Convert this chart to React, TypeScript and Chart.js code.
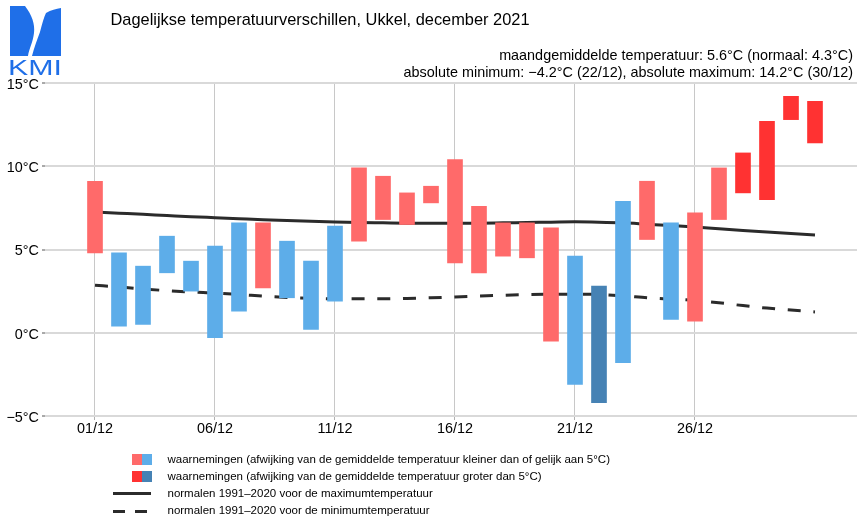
import React, { useEffect, useRef } from 'react';
import { Chart, registerables } from 'chart.js';

Chart.register(...registerables);

// ---------- data ----------
const days = [1, 2, 3, 4, 5, 6, 7, 8, 9, 10, 11, 12, 13, 14, 15, 16, 17, 18, 19, 20, 21, 22, 23, 24, 25, 26, 27, 28, 29, 30, 31];
const dailyMin = [4.8, 0.4, 0.5, 3.6, 2.5, -0.3, 1.3, 2.7, 2.1, 0.2, 1.9, 5.5, 6.8, 6.5, 7.8, 4.2, 3.6, 4.6, 4.5, -0.5, -3.1, -4.2, -1.8, 5.6, 0.8, 0.7, 6.8, 8.4, 8.0, 12.8, 11.4];
const dailyMax = [9.1, 4.8, 4.0, 5.8, 4.3, 5.2, 6.6, 6.6, 5.5, 4.3, 6.4, 9.9, 9.4, 8.4, 8.8, 10.4, 7.6, 6.6, 6.6, 6.3, 4.6, 2.8, 7.9, 9.1, 6.6, 7.2, 9.9, 10.8, 12.7, 14.2, 13.9];
// deviation of the daily mean from normal: warm / cold, "5" = more than 5°C
const deviationClass = ['warm', 'cold', 'cold', 'cold', 'cold', 'cold', 'cold', 'warm', 'cold', 'cold', 'cold', 'warm', 'warm', 'warm', 'warm', 'warm', 'warm', 'warm', 'warm', 'warm', 'cold', 'cold5', 'cold', 'warm', 'cold', 'warm', 'warm', 'warm5', 'warm5', 'warm5', 'warm5'];
const normalMax = [7.25, 7.18, 7.11, 7.04, 6.97, 6.91, 6.85, 6.79, 6.74, 6.69, 6.65, 6.62, 6.6, 6.58, 6.57, 6.57, 6.58, 6.6, 6.62, 6.64, 6.66, 6.64, 6.6, 6.52, 6.44, 6.35, 6.24, 6.14, 6.05, 5.96, 5.87];
const normalMin = [2.85, 2.75, 2.63, 2.53, 2.45, 2.38, 2.3, 2.2, 2.12, 2.07, 2.04, 2.04, 2.04, 2.06, 2.1, 2.15, 2.2, 2.25, 2.29, 2.31, 2.32, 2.3, 2.22, 2.1, 2.02, 1.94, 1.8, 1.63, 1.48, 1.36, 1.25];
const tickDays = [1, 6, 11, 16, 21, 26];
const tickLabels = ['01/12', '06/12', '11/12', '16/12', '21/12', '26/12'];
const yTickValues = [-5, 0, 5, 10, 15];

const titleText = 'Dagelijkse temperatuurverschillen, Ukkel, december 2021';
const infoLine1 = 'maandgemiddelde temperatuur: 5.6°C (normaal: 4.3°C)';
const infoLine2 = 'absolute minimum: \u22124.2°C (22/12), absolute maximum: 14.2°C (30/12)';
const legendLabels = [
  'waarnemingen (afwijking van de gemiddelde temperatuur kleiner dan of gelijk aan 5°C)',
  'waarnemingen (afwijking van de gemiddelde temperatuur groter dan 5°C)',
  'normalen 1991\u20132020 voor de maximumtemperatuur',
  'normalen 1991\u20132020 voor de minimumtemperatuur',
];

// ---------- styles ----------
const FONT = '"Liberation Sans", Arial, Helvetica, sans-serif';
const COLORS: Record<string, string> = {
  warm: '#ff6a6a',
  cold: '#5dade9',
  warm5: '#ff3232',
  cold5: '#4682b4',
};
const LINE_COLOR = '#2b2b2b';

function fmtY(v: number) {
  return (v < 0 ? '\u2212' + Math.abs(v) : String(v)) + '°C';
}

function ChartCanvas() {
  const ref = useRef<HTMLCanvasElement | null>(null);
  useEffect(() => {
    if (!ref.current) return;
    const chart = new Chart(ref.current, {
      type: 'bar',
      data: {
        datasets: [
          {
            type: 'bar',
            data: days.map((d, i) => ({ x: d, y: [dailyMin[i], dailyMax[i]] })) as any,
            backgroundColor: deviationClass.map((c) => COLORS[c]),
            borderWidth: 0,
            barThickness: 15,
            grouped: false,
            order: 0,
          } as any,
          {
            type: 'line',
            data: days.map((d, i) => ({ x: d, y: normalMax[i] })),
            borderColor: LINE_COLOR,
            borderWidth: 3,
            pointRadius: 0,
            cubicInterpolationMode: 'monotone',
            order: 1,
          } as any,
          {
            type: 'line',
            data: days.map((d, i) => ({ x: d, y: normalMin[i] })),
            borderColor: LINE_COLOR,
            borderWidth: 3,
            borderDash: [13, 12.7],
            pointRadius: 0,
            cubicInterpolationMode: 'monotone',
            order: 1,
          } as any,
        ],
      },
      options: {
        animation: false,
        responsive: false,
        maintainAspectRatio: false,
        devicePixelRatio: 1,
        layout: { padding: { top: 83, left: 0, right: 0, bottom: 0 } },
        plugins: { legend: { display: false }, tooltip: { enabled: false }, title: { display: false } },
        scales: {
          x: {
            type: 'linear',
            min: -1.0833,
            max: 32.75,
            offset: false,
            afterBuildTicks: (s: any) => {
              s.ticks = tickDays.map((v) => ({ value: v }));
            },
            afterFit: (s: any) => {
              s.height = 103;
            },
            ticks: {
              autoSkip: false,
              maxRotation: 0,
              padding: 0,
              color: '#000',
              font: { family: FONT, size: 14.4 },
              callback: (v: any) => {
                const i = tickDays.indexOf(Number(v));
                return i >= 0 ? tickLabels[i] : '';
              },
            },
            grid: { offset: false, color: '#c8c8c8', lineWidth: 1, tickLength: 4, tickColor: '#b0b0b0' },
            border: { display: false },
          },
          y: {
            type: 'linear',
            min: -5,
            max: 15,
            afterBuildTicks: (s: any) => {
              s.ticks = yTickValues.map((v) => ({ value: v }));
            },
            afterFit: (s: any) => {
              s.width = 45;
            },
            ticks: {
              padding: 3,
              labelOffset: 2,
              color: '#000',
              font: { family: FONT, size: 14.4 },
              callback: (v: any) => fmtY(Number(v)),
            },
            grid: { color: '#d9d9d9', lineWidth: 2, tickLength: 3, tickColor: '#555', tickWidth: 1 },
            border: { display: false },
          },
        },
      } as any,
    });
    return () => chart.destroy();
  }, []);
  return <canvas ref={ref} width={857} height={519} style={{ position: 'absolute', left: 0, top: 0, width: 857, height: 519 }} />;
}

function Logo() {
  const blue = '#1f6fe8';
  return (
    <svg width={70} height={80} style={{ position: 'absolute', left: 0, top: 0 }}>
      <path d="M10,6 L25,6 C32,15 35,24 34,33 C33,42 29,49 28,56 L10,56 Z" fill={blue} />
      <path d="M46,13 C51,10 56,9 61,8 L61,56 L32,56 C34,48 37,40 40,32 C42,24 44,17 46,13 Z" fill={blue} />
      <text x={8} y={75} fontFamily={FONT} fontSize={22} fill={blue} textLength={54} lengthAdjust="spacingAndGlyphs">KMI</text>
    </svg>
  );
}

function Text({ children, left, right, center, size }: any) {
  const style: any = {
    position: 'absolute',
    top: center - size / 2,
    fontFamily: FONT,
    fontSize: size,
    lineHeight: `${size}px`,
    whiteSpace: 'nowrap',
    color: '#000',
  };
  if (left !== undefined) style.left = left;
  if (right !== undefined) style.right = right;
  return <div style={style}>{children}</div>;
}

export default function App() {
  const rowCenters = [459.5, 476.5, 493.5, 510.5];
  return (
    <div style={{ position: 'fixed', left: 0, top: 0, width: 857, height: 519, background: '#fff', overflow: 'hidden' }}>
      <ChartCanvas />
      <Logo />
      <Text left={110.5} center={18.7} size={16.4}>{titleText}</Text>
      <Text right={4} center={55} size={14.4}>{infoLine1}</Text>
      <Text right={4} center={72} size={14.4}>{infoLine2}</Text>
      {/* legend */}
      <div style={{ position: 'absolute', left: 132, top: 453.5, width: 10, height: 11.5, background: COLORS.warm }} />
      <div style={{ position: 'absolute', left: 142, top: 453.5, width: 10, height: 11.5, background: COLORS.cold }} />
      <div style={{ position: 'absolute', left: 132, top: 470.5, width: 10, height: 11.5, background: COLORS.warm5 }} />
      <div style={{ position: 'absolute', left: 142, top: 470.5, width: 10, height: 11.5, background: COLORS.cold5 }} />
      <div style={{ position: 'absolute', left: 113, top: 491.5, width: 38, height: 3, background: LINE_COLOR }} />
      <div style={{ position: 'absolute', left: 113, top: 509.5, width: 12, height: 3, background: LINE_COLOR }} />
      <div style={{ position: 'absolute', left: 135, top: 509.5, width: 12, height: 3, background: LINE_COLOR }} />
      {legendLabels.map((l, i) => (
        <Text key={i} left={167.5} center={rowCenters[i]} size={11.5}>{l}</Text>
      ))}
    </div>
  );
}
